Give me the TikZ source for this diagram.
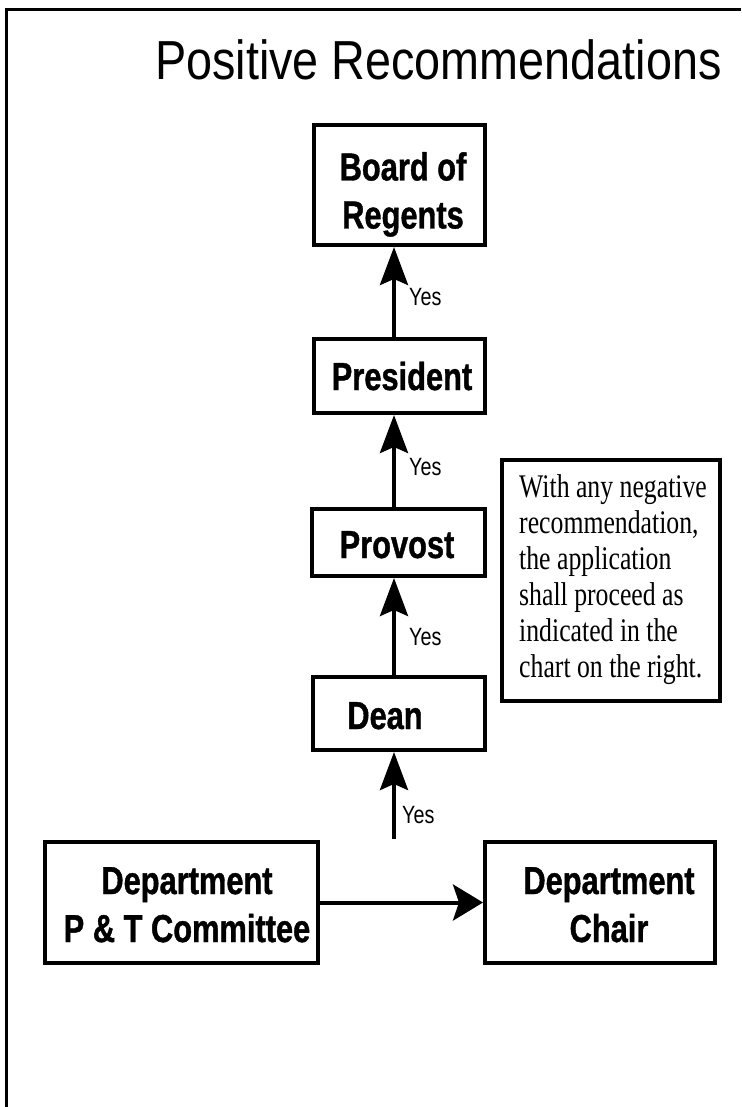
\documentclass[tikz,border=0pt]{standalone}
\usepackage{fontspec}
\setmainfont{Liberation Sans}
\newfontfamily\titlefont[FakeStretch=0.85]{Liberation Sans}
\newfontfamily\boxfont[FakeStretch=0.79, FakeBold=1]{Liberation Sans Bold}
\newfontfamily\yesfont[FakeStretch=0.79]{Liberation Sans}
\newfontfamily\notefont[FakeStretch=0.78]{Liberation Serif}
\usetikzlibrary{arrows.meta}

\begin{document}
\begin{tikzpicture}[x=1pt, y=-1pt,
  box/.style={draw, line width=4pt, inner sep=0pt},
  lbl/.style={inner sep=0pt, align=center, font=\boxfont\fontsize{39}{48}\selectfont},
  yes/.style={inner sep=0pt, anchor=base west, font=\yesfont\fontsize{25}{25}\selectfont},
  upArrow/.style={line width=4pt, -{Stealth[length=38pt, width=28pt, inset=6pt]}},
  sideArrow/.style={line width=4pt, -{Stealth[length=30pt, width=36pt, inset=6pt]}},
  frame/.style={line width=3pt}
]
\useasboundingbox (0,0) rectangle (741,1107);

% page frame: left edge and top edge
\draw[frame] (6.5,1107) -- (6.5,10) -- (741,10);

% title
\node[inner sep=0pt, anchor=base west, font=\titlefont\fontsize{55}{58}\selectfont]
  (title) at (155,80) {Positive Recommendations};

% chain of offices
\node[box, minimum width=171pt, minimum height=120pt] (board) at (399.5,185) {};
\node[box, minimum width=171pt, minimum height=74pt]  (pres)  at (399.5,376) {};
\node[box, minimum width=173pt, minimum height=67pt]  (prov)  at (398.5,542.5) {};
\node[box, minimum width=172pt, minimum height=73pt]  (dean)  at (399,713.5) {};
\node[box, minimum width=273pt, minimum height=121pt] (ptc)   at (181.5,902.5) {};
\node[box, minimum width=230pt, minimum height=121pt] (chair) at (600,902.5) {};

% box captions
\node[lbl, anchor=north] (board-t) at (403,152) {Board of\\Regents};
\node[lbl, anchor=base]  (pres-t)  at (402,390) {President};
\node[lbl, anchor=base]  (prov-t)  at (397,558) {Provost};
\node[lbl, anchor=base]  (dean-t)  at (385,729) {Dean};
\node[lbl, anchor=north] (ptc-t)   at (187,867) {Department\\P \& T Committee};
\node[lbl, anchor=north] (chair-t) at (609,867) {Department\\Chair};

% note on negative recommendations
\node[box, minimum width=218pt, minimum height=241pt] (note) at (611,580.5) {};
\node[inner sep=0pt, anchor=north west, align=left,
      font=\notefont\fontsize{33}{36}\selectfont] (note-t) at (519,474)
  {With any negative\\recommendation,\\the application\\shall proceed as\\indicated in the\\chart on the right.};

% connectors
\coordinate (spine) at (394,839);
\draw[upArrow] (spine) -- (dean.south -| spine);
\draw[upArrow] (dean.north -| spine) -- (prov.south -| spine);
\draw[upArrow] (prov.north -| spine) -- (pres.south -| spine);
\draw[upArrow] (pres.north -| spine) -- (board.south -| spine);
\draw[sideArrow] (ptc.east) -- (chair.west);

% arrow labels
\node[yes] (yes1) at (409,305) {Yes};
\node[yes] (yes2) at (409,475) {Yes};
\node[yes] (yes3) at (409,645) {Yes};
\node[yes] (yes4) at (402,823) {Yes};
\end{tikzpicture}
\end{document}
